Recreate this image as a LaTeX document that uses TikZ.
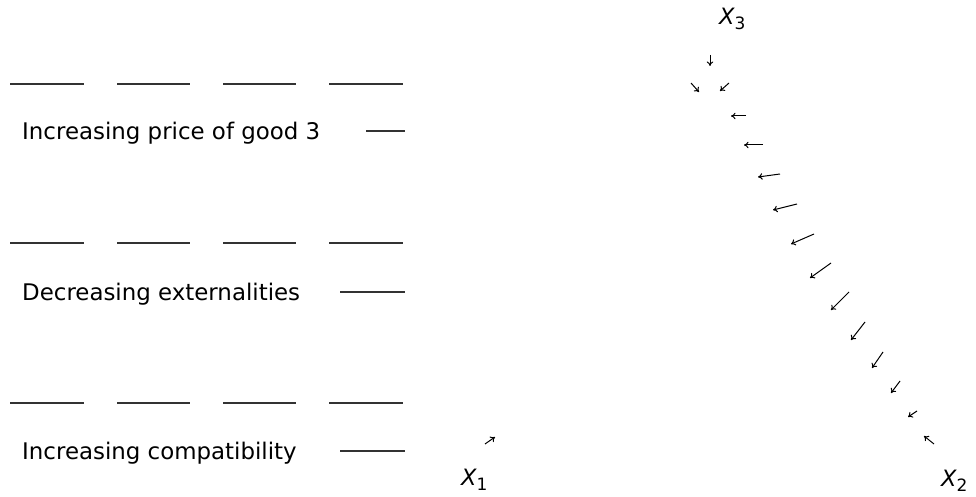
\documentclass[tikz,border=0pt]{standalone}
\usepackage{fontspec}
\setmainfont{DejaVu Sans}
\usetikzlibrary{arrows.meta}
\tikzset{
  seg/.style={line width=1.2pt, draw=black!80},
  lbl/.style={anchor=base west, inner sep=0pt, font=\fontsize{22.9}{27}\selectfont},
  axl/.style={anchor=base west, inner sep=0pt, font=\fontsize{22.5}{27}\selectfont\itshape},
  vec/.style={line width=1pt, -{To[length=4.5pt,width=6.5pt]}},
}
\newcommand{\axlab}[1]{X\raisebox{-5pt}{\upshape\fontsize{17}{20}\selectfont #1}}
\begin{document}
\begin{tikzpicture}[x=1pt,y=-1pt]
\useasboundingbox (0,0) rectangle (976,497);
% dashed rows
\foreach \yy in {84,243,403}{
  \foreach \xa/\xb in {10/84,117/190,223/296,329/403}
    \draw[seg] (\xa,\yy) -- (\xb,\yy);
}
\node[lbl] (t1) at (22,140) {Increasing price of good 3};
\node[lbl] (t2) at (22,300) {Decreasing externalities};
\node[lbl] (t3) at (22,459) {Increasing compatibility};
\draw[seg] (366,131) -- (405,131);
\draw[seg] (340,292) -- (405,292);
\draw[seg] (340,451) -- (405,451);
% axis labels
\node[axl] (x3) at (719,25) {\axlab{3}};
\node[axl] (x1) at (461,485) {\axlab{1}};
\node[axl] (x2) at (941,486) {\axlab{2}};
% vector field
\foreach \ax/\ay/\bx/\by in {
  710/55/710/66,
  691/83/699/92,
  729/83/720/91,
  746/116/731/116,
  763/145/744/145,
  780/174/758/177,
  797/204/773/210,
  814/234/791/244,
  831/263/810/278,
  849/292/831/310,
  865/322/851/340,
  883/352/872/368,
  900/381/891/393,
  917/411/908/417,
  934/444/924/436,
  485/444/495/437}
  \draw[vec] (\ax,\ay) -- (\bx,\by);
\end{tikzpicture}
\end{document}
